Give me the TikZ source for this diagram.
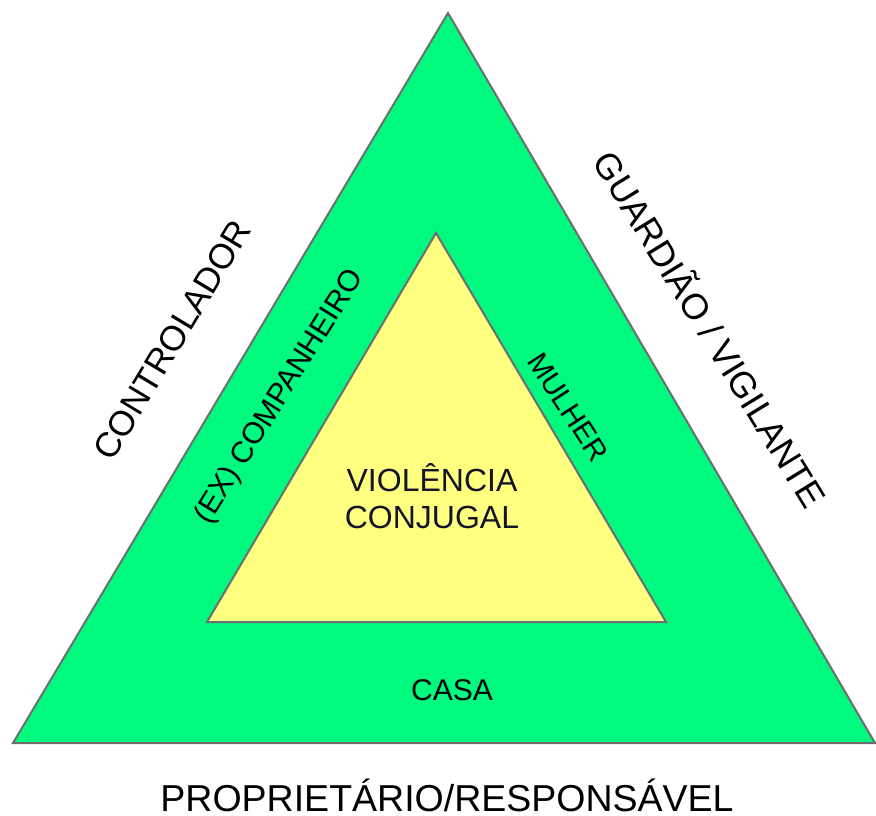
\documentclass[tikz,border=0pt]{standalone}
\usepackage{fontspec}
\setmainfont{Liberation Sans}
\definecolor{tgreen}{RGB}{0,250,128}
\definecolor{tyellow}{RGB}{255,255,128}
\definecolor{tedge}{RGB}{110,110,110}
\definecolor{ttext}{RGB}{20,20,40}
\tikzset{
  tri/.style={draw=tedge, line width=2pt, line join=miter},
  lbl/.style={inner sep=0pt, text=black},
}
\begin{document}
\begin{tikzpicture}[x=1pt,y=-1pt]
\useasboundingbox (0,0) rectangle (876,816);
% outer triangle
\coordinate (oa) at (448,13);
\coordinate (ob) at (13,743);
\coordinate (oc) at (875,743);
\fill[tgreen] (oa) -- (ob) -- (oc) -- cycle;
\draw[tri] (oa) -- (ob) -- (oc) -- cycle;
% inner triangle
\coordinate (ia) at (436,233);
\coordinate (ib) at (207,622);
\coordinate (ic) at (666,622);
\fill[tyellow] (ia) -- (ib) -- (ic) -- cycle;
\draw[tri] (ia) -- (ib) -- (ic) -- cycle;
% labels
\node[lbl, rotate=59, font=\fontsize{35}{35}\selectfont] (ctrl) at (172,340) {CONTROLADOR};
\node[lbl, rotate=-58.5, font=\fontsize{36}{36}\selectfont] (guard) at (712,328) {GUARDIÃO / VIGILANTE};
\node[lbl, rotate=58, font=\fontsize{30}{30}\selectfont] (comp) at (280,397) {(EX) COMPANHEIRO};
\node[lbl, rotate=-57, font=\fontsize{29}{29}\selectfont] (mulher) at (568,407) {MULHER};
\node[lbl, text=ttext, align=center, font=\fontsize{32}{37}\selectfont] (viol) at (432,496) {VIOLÊNCIA\\CONJUGAL};
\node[lbl, font=\fontsize{30}{30}\selectfont] (casa) at (452,690) {CASA};
\node[lbl, font=\fontsize{37.5}{37.5}\selectfont] (prop) at (447,795) {PROPRIETÁRIO/RESPONSÁVEL};
\end{tikzpicture}
\end{document}
